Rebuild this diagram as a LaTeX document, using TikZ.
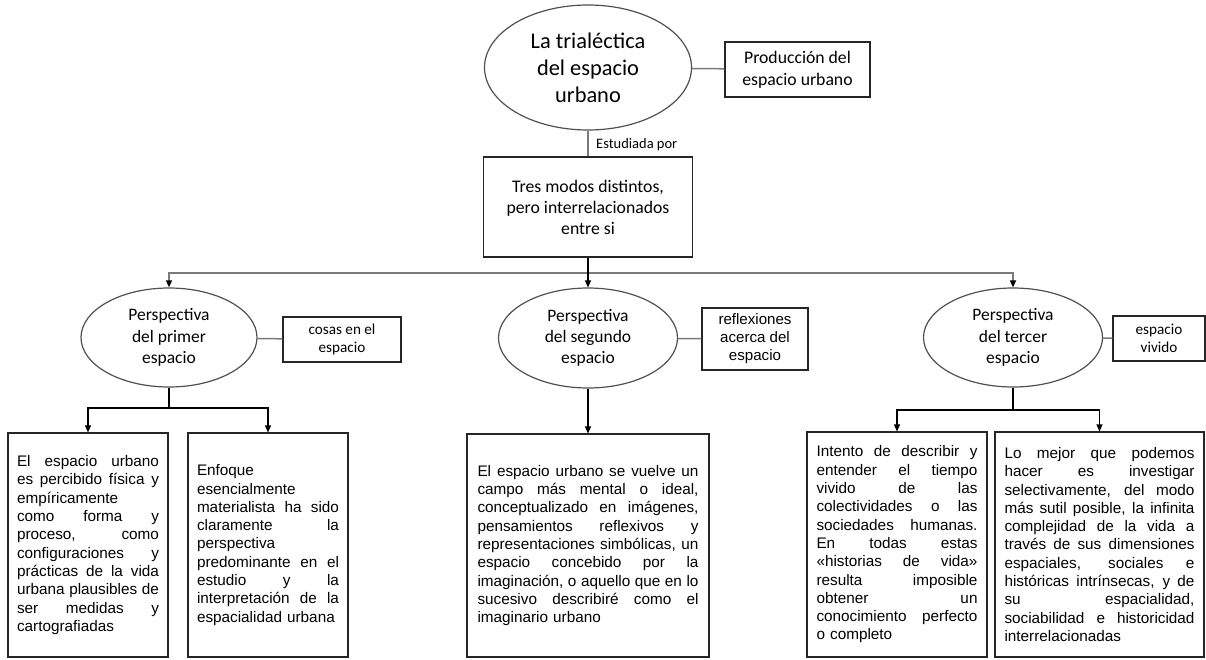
\documentclass[tikz,border=0pt]{standalone}
\usepackage{fontspec}
\usetikzlibrary{arrows.meta,shapes.geometric}
\newfontfamily\carl{Carlito}
\newfontfamily\arl{Liberation Sans}
\definecolor{ellgray}{HTML}{505050}
\definecolor{linegray}{HTML}{7A7A7A}
\newcommand\jl[1]{\hbox to\linewidth{\spaceskip=0.278em plus 1fil minus 0.05em\xspaceskip=\spaceskip\relax #1}}
\newcommand\lf[1]{\hbox to\linewidth{#1\hfil}}
\hbadness=10000 \hfuzz=8pt
\begin{document}
\begin{tikzpicture}[x=1pt,y=-1pt,
  ell/.style={ellipse,draw=ellgray,line width=1.2pt,inner sep=0pt,align=center,
    font=\carl\fontsize{17.5}{21.3}\selectfont},
  tag/.style={rectangle,draw=black!85,line width=1.1pt,inner sep=0pt,align=center,
    font=\carl\fontsize{15.2}{18.5}\selectfont},
  txtbox/.style={rectangle,draw=black!85,line width=1.1pt,inner ysep=0pt,
    font=\arl\fontsize{15.3}{18.3}\selectfont},
  gline/.style={draw=linegray,line width=1.5pt},
  bline/.style={draw=black,line width=1.1pt},
  arr/.style={draw=black,line width=1.1pt,-{Triangle[length=7pt,width=6pt]}},
  garr/.style={gline,-{Triangle[length=7pt,width=6pt,color=black]}}
  ]
\useasboundingbox (0,0) rectangle (1206,660);

% top level
\node[ell,minimum width=207pt,minimum height=125pt,
      font=\carl\fontsize{22.4}{27}\selectfont] (top) at (588,67.5)
      {La trialéctica\\del espacio\\urbano};
\node[tag,minimum width=145pt,minimum height=55pt,
      font=\carl\fontsize{17.7}{21.6}\selectfont] (prod) at (797.5,69.5)
      {Producción del\\espacio urbano};
\node[tag,minimum width=209pt,minimum height=100pt,
      font=\carl\fontsize{17.7}{21}\selectfont] (tres) at (588,207)
      {Tres modos distintos,\\pero interrelacionados\\entre si};
\node[anchor=base west,inner sep=0pt,font=\carl\fontsize{14.5}{17}\selectfont]
      (lab) at (596,149) {Estudiada por};

\coordinate (hub) at (588,273);

% perspectives
\node[ell,minimum width=176pt,minimum height=99pt] (e1) at (169,337.5)
      {Perspectiva\\del primer\\espacio};
\node[ell,minimum width=179pt,minimum height=100pt] (e2) at (588,338)
      {Perspectiva\\del segundo\\espacio};
\node[ell,minimum width=179pt,minimum height=99pt] (e3) at (1013,337.5)
      {Perspectiva\\del tercer\\espacio};

\node[tag,minimum width=118pt,minimum height=45pt] (cosas) at (342,339.5)
      {cosas en el\\espacio};
\node[tag,minimum width=106pt,minimum height=62pt,
      font=\arl\fontsize{15.1}{18}\selectfont] (refl) at (755,339)
      {reflexiones\\acerca del\\espacio};
\node[tag,minimum width=92pt,minimum height=45pt] (viv) at (1159,338.5)
      {espacio\\vivido};

% text boxes
\node[txtbox,text width=142pt,inner xsep=9pt,minimum height=224pt] (bA) at (88,545) {%
\jl{El espacio urbano}
\jl{es percibido física y}
\lf{empíricamente}
\jl{como forma y}
\jl{proceso, como}
\jl{configuraciones y}
\jl{prácticas de la vida}
\jl{urbana plausibles de}
\jl{ser medidas y}
\lf{cartografiadas}};

\node[txtbox,text width=142pt,inner xsep=9pt,minimum height=224pt] (bB) at (268,545) {%
\lf{Enfoque}
\lf{esencialmente}
\jl{materialista ha sido}
\jl{claramente la}
\lf{perspectiva}
\jl{predominante en el}
\jl{estudio y la}
\jl{interpretación de la}
\lf{espacialidad urbana}};

\node[txtbox,text width=221pt,inner xsep=10.5pt,minimum height=223pt] (bC) at (588,545.5) {%
\jl{El espacio urbano se vuelve un}
\jl{campo más mental o ideal,}
\jl{conceptualizado en imágenes,}
\jl{pensamientos reflexivos y}
\jl{representaciones simbólicas, un}
\jl{espacio concebido por la}
\jl{imaginación, o aquello que en lo}
\jl{sucesivo describiré como el}
\lf{imaginario urbano}};

\node[txtbox,text width=161pt,inner xsep=9.5pt,minimum height=225pt] (bD) at (897,544.5) {%
\jl{Intento de describir y}
\jl{entender el tiempo}
\jl{vivido de las}
\jl{colectividades o las}
\jl{sociedades humanas.}
\jl{En todas estas}
\jl{«historias de vida»}
\jl{resulta imposible}
\jl{obtener un}
\jl{conocimiento perfecto}
\lf{o completo}};

\node[txtbox,text width=190pt,inner xsep=9.5pt,minimum height=225pt] (bE) at (1099.5,544.5) {%
\jl{Lo mejor que podemos}
\jl{hacer es investigar}
\jl{selectivamente, del modo}
\jl{más sutil posible, la infinita}
\jl{complejidad de la vida a}
\jl{través de sus dimensiones}
\jl{espaciales, sociales e}
\jl{históricas intrínsecas, y de}
\jl{su espacialidad,}
\jl{sociabilidad e historicidad}
\lf{interrelacionadas}\kern15pt};

% connectors
\draw[gline] (top) -- (prod);
\draw[gline] (top) -- (tres);
\draw[garr] (hub) -| (e1);
\draw[garr] (hub) -| (e3);
\draw[arr] (tres) -- (e2);
\draw[gline] (e1) -- (cosas);
\draw[gline] (e2) -- (refl);
\draw[gline] (e3) -- (viv);

\coordinate (s1) at (169,408);
\coordinate (s3) at (1013,410);
\draw[bline] (e1.south) -- (s1);
\draw[arr] (s1) -| (bA);
\draw[arr] (s1) -| (bB);
\draw[arr] (e2) -- (bC);
\draw[bline] (e3.south) -- (s3);
\draw[arr] (s3) -| (bD);
\draw[arr] (s3) -| (bE);
\end{tikzpicture}
\end{document}
